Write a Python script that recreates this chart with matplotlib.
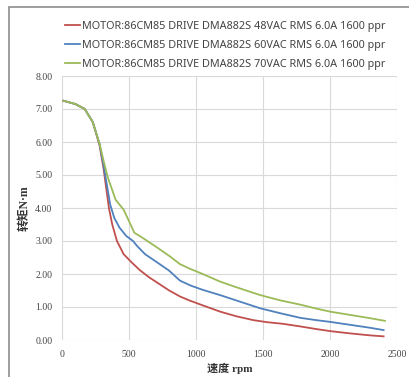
import matplotlib
matplotlib.use("Agg")
import matplotlib.pyplot as plt
from matplotlib.patches import Rectangle
from matplotlib.ticker import FormatStrFormatter

# 48VAC (red)
rpm_48 = [10, 100, 170, 230, 280, 310, 330, 350, 375, 410, 460, 520, 580, 650, 710,
          800, 880, 950, 1050, 1180, 1300, 1430, 1530, 1650, 1780, 1900, 2000, 2150, 2300, 2400]
torque_48 = [7.25, 7.15, 7.0, 6.6, 5.9, 5.2, 4.6, 4.0, 3.5, 3.0, 2.6, 2.35, 2.12, 1.9, 1.74,
             1.5, 1.32, 1.2, 1.05, 0.86, 0.72, 0.6, 0.54, 0.49, 0.41, 0.33, 0.27, 0.2, 0.14, 0.11]

# 60VAC (blue)
rpm_60 = [10, 100, 170, 230, 280, 310, 335, 360, 390, 430, 480, 530, 560, 620, 700,
          800, 880, 960, 1050, 1180, 1300, 1480, 1630, 1780, 1900, 2000, 2150, 2300, 2400]
torque_60 = [7.25, 7.15, 7.0, 6.6, 5.95, 5.3, 4.7, 4.1, 3.7, 3.4, 3.15, 3.0, 2.85, 2.6, 2.38,
             2.1, 1.8, 1.65, 1.52, 1.36, 1.2, 0.96, 0.81, 0.67, 0.6, 0.55, 0.46, 0.37, 0.3]

# 70VAC (green)
rpm_70 = [10, 100, 170, 230, 280, 315, 340, 370, 400, 460, 500, 540, 600, 700,
          800, 880, 960, 1050, 1180, 1300, 1480, 1630, 1780, 1900, 2000, 2150, 2300, 2410]
torque_70 = [7.25, 7.15, 7.0, 6.6, 5.95, 5.35, 4.95, 4.6, 4.25, 3.95, 3.6, 3.25, 3.1, 2.83,
             2.55, 2.3, 2.15, 2.0, 1.77, 1.6, 1.36, 1.2, 1.07, 0.95, 0.86, 0.76, 0.66, 0.58]

labels = ["MOTOR:86CM85 DRIVE DMA882S 48VAC RMS 6.0A 1600 ppr",
          "MOTOR:86CM85 DRIVE DMA882S 60VAC RMS 6.0A 1600 ppr",
          "MOTOR:86CM85 DRIVE DMA882S 70VAC RMS 6.0A 1600 ppr"]
colors = ["#C0504D", "#4F81BD", "#9BBB59"]

W, H = 409, 377
fig = plt.figure(figsize=(W / 100, H / 100), dpi=100)
ax = fig.add_axes([62 / W, (H - 340) / H, 335 / W, 264 / H])

for x, y, lab, c in zip([rpm_48, rpm_60, rpm_70], [torque_48, torque_60, torque_70], labels, colors):
    ax.plot(x, y, color=c, lw=1.3, label=lab)

ax.set_xlim(0, 2500)
ax.set_ylim(0, 8)
ax.set_xticks(range(0, 2501, 500))
ax.set_yticks(range(0, 9))
ax.yaxis.set_major_formatter(FormatStrFormatter("%.2f"))
ax.grid(True, color="#d9d9d9", lw=0.8)
ax.set_axisbelow(True)
for s in ax.spines.values():
    s.set_visible(False)
ax.tick_params(length=0, labelsize=7, colors="#444444", pad=7,
               labelfontfamily="Liberation Serif")

cjk = ["Liberation Serif", "Noto Sans CJK SC"]
ax.set_xlabel("速度 rpm", fontsize=8, fontweight="bold", family=cjk,
              color="#333333", labelpad=3)
ax.set_ylabel("转矩N·m", fontsize=8.5, fontweight="bold", family=cjk,
              color="#333333", labelpad=3)

leg = ax.legend(loc="lower left", bbox_to_anchor=(-0.01, 1.0), frameon=False,
                prop={"family": "Noto Sans", "size": 7.85}, handlelength=1.4,
                handletextpad=0.15, labelspacing=0.72, borderaxespad=0.15)
for t in leg.get_texts():
    t.set_color("#444444")

# outer frame (runs off the right and bottom edges)
fig.patches.append(Rectangle((8.5 / W, -0.05), 1.0, (377 - 7) / H + 0.05,
                             transform=fig.transFigure, fill=False, ec="#8c8c8c", lw=1.2))

fig.savefig("out.png", dpi=100)
